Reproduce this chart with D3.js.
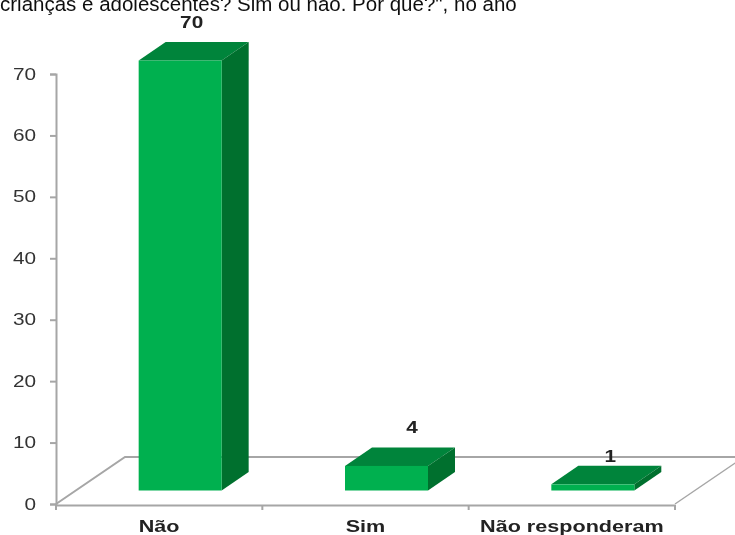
<!DOCTYPE html>
<html>

<head>
    <meta charset="utf-8">
    <style>
        body {
            margin: 0;
            background: #fff;
        }

        svg {
            display: block;
            font-family: "Liberation Sans", Arial, sans-serif;
        }

        .axis .domain,
        .axis .tick line {
            stroke: #a6a6a6;
            stroke-width: 2px;
        }

        .y .tick text {
            font-size: 16px;
            fill: #333;
        }

        .x .tick text {
            font-size: 16px;
            font-weight: bold;
            fill: #222;
        }
    </style>
</head>

<body>
    <svg width="735" height="535"></svg>

    <script src="https://d3js.org/d3.v7.min.js"></script>
    <script>
        let categories = ["Não", "Sim", "Não responderam"]
        let values = [70, 4, 1]
        let yTicks = [0, 10, 20, 30, 40, 50, 60, 70]
        let titleText = "crianças e adolescentes? Sim ou não. Por quê?\", no ano"

        let svg = d3.select("svg")

        // the source picture is a soft, stretched scan, so blur a touch
        let defs = svg.append("defs")
        defs.append("filter")
            .attr("id", "soft")
            .append("feGaussianBlur")
            .attr("stdDeviation", 0.45)

        let y = d3.scaleLinear().domain([0, 70]).range([504, 74])
        let x = d3.scaleBand().domain(categories).range([56, 675])

        // the 3d look: the floor sits behind the axis, bars are pushed in a bit
        let barWidth = 83
        let barShift = 21
        let barLift = 13.5
        let depthX = 27
        let depthY = 18.5
        let floorDepthX = 69
        let floorDepthY = 47
        let stretch = 1.3

        // value labels do not sit at the same spot on each bar
        let labelNudge = {
            "Não": { dx: 53, dy: -38 },
            "Sim": { dx: 67, dy: -39 },
            "Não responderam": { dx: 59, dy: -28 }
        }

        let chart = svg.append("g").attr("filter", "url(#soft)")

        let floorBack = y(0) - floorDepthY
        chart.append("path")
            .attr("d", `M${x.range()[0]},${y(0)}L${x.range()[0] + floorDepthX},${floorBack}L735,${floorBack}`)
            .style("fill", "none")
            .style("stroke", "#a6a6a6")
            .style("stroke-width", "2px")

        chart.append("line")
            .attr("x1", x.range()[1])
            .attr("y1", y(0))
            .attr("x2", x.range()[1] + floorDepthX)
            .attr("y2", floorBack)
            .style("stroke", "#a6a6a6")
            .style("stroke-width", "1.5px")

        let yAxis = d3.axisLeft(y).tickValues(yTicks).tickSize(6).tickPadding(13)
        let yAxisG = chart.append("g")
            .attr("class", "y axis")
            .attr("transform", `translate(${x.range()[0]},0)`)
            .call(yAxis)

        yAxisG.selectAll(".tick text")
            .attr("x", -20 / stretch)
            .attr("transform", `scale(${stretch},1)`)

        let xAxis = d3.axisBottom(x).tickSize(0).tickPadding(16)
        let xAxisG = chart.append("g")
            .attr("class", "x axis")
            .attr("transform", `translate(0,${y(0) + 1})`)
            .call(xAxis)

        xAxisG.selectAll(".tick text")
            .attr("transform", `scale(${stretch + 0.05},1)`)

        // band edges get the tick marks, not the band centres
        xAxisG.selectAll(".edge")
            .data(categories.map(d => x(d)).concat(x.range()[1]))
            .join("line")
            .attr("class", "edge")
            .attr("x1", d => d)
            .attr("x2", d => d)
            .attr("y1", 0)
            .attr("y2", 5)
            .style("stroke", "#a6a6a6")
            .style("stroke-width", "2px")

        let bars = chart.selectAll(".bar")
            .data(categories.map((c, i) => ({ name: c, value: values[i] })))
            .join("g")
            .attr("class", "bar")
            .attr("transform", d => `translate(${x(d.name) + x.bandwidth() / 2 + barShift - barWidth / 2},0)`)

        let barBottom = y(0) - barLift
        let barTop = d => barBottom - (y(0) - y(d.value))

        bars.append("path")
            .attr("d", d => `M0,${barTop(d)}l${depthX},${-depthY}h${barWidth}l${-depthX},${depthY}z`)
            .style("fill", "#00843a")

        bars.append("path")
            .attr("d", d => `M${barWidth},${barTop(d)}l${depthX},${-depthY}V${barBottom - depthY}l${-depthX},${depthY}z`)
            .style("fill", "#00702f")

        bars.append("rect")
            .attr("x", 0)
            .attr("y", barTop)
            .attr("width", barWidth)
            .attr("height", d => barBottom - barTop(d))
            .style("fill", "#00b050")

        bars.append("text")
            .attr("transform", d => `translate(${labelNudge[d.name].dx},${barTop(d) + labelNudge[d.name].dy}) scale(${stretch},1)`)
            .attr("dy", "0.35em")
            .style("text-anchor", "middle")
            .style("font-size", "16px")
            .style("font-weight", "bold")
            .style("fill", "#222")
            .text(d => d.value)

        chart.append("text")
            .attr("x", 0)
            .attr("y", 11)
            .style("font-size", "20.5px")
            .style("fill", "#111")
            .text(titleText)
    </script>
</body>

</html>
